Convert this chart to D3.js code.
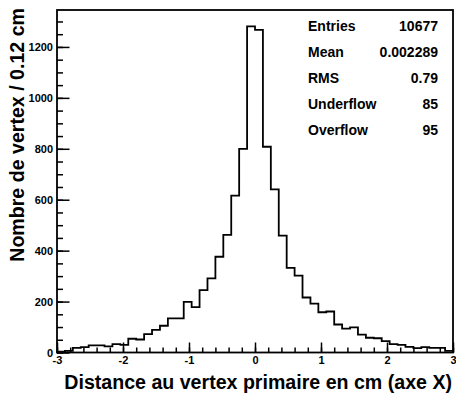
<!DOCTYPE html>
<html>
<head>
<meta charset="utf-8">
<script src="https://cdn.jsdelivr.net/npm/d3@7"></script>
<style>
  html, body { margin: 0; padding: 0; background: #fff; }
  svg { display: block; font-family: "Liberation Sans", Arial, Helvetica, sans-serif; font-weight: bold; }
</style>
</head>
<body>
<svg id="chart" width="456" height="397"></svg>
<script>
// ---- data ----
const binLow = -3;
const binHigh = 3;
const binCounts = [
  3, 6, 18, 21, 28, 28, 24, 33, 30, 54,
  51, 72, 89, 105, 134, 134, 199, 178, 245, 291,
  376, 462, 616, 800, 1281, 1267, 808, 641, 459, 332,
  302, 216, 192, 158, 161, 110, 94, 99, 70, 58,
  56, 45, 33, 30, 22, 17, 21, 18, 18, 6
];
const xTickValues = [-3, -2, -1, 0, 1, 2, 3];
const yTickValues = [0, 200, 400, 600, 800, 1000, 1200];
const statLabels = ["Entries", "Mean", "RMS", "Underflow", "Overflow"];
const statValues = ["10677", "0.002289", "0.79", "85", "95"];
const xTitle = "Distance au vertex primaire en cm (axe X)";
const yTitle = "Nombre de vertex / 0.12 cm";

// ---- layout ----
const frame = { left: 57, right: 453, top: 10, bottom: 352.5 };
const svg = d3.select("#chart");

const nBins = binCounts.length;
const binWidth = (binHigh - binLow) / nBins;
const yMax = d3.max(binCounts) * 1.05;

const x = d3.scaleLinear().domain([binLow, binHigh]).range([frame.left, frame.right]);
const y = d3.scaleLinear().domain([0, yMax]).range([frame.bottom, frame.top]);

// minor ticks
const xMinor = d3.range(binLow, binHigh + 1e-9, 0.2).map(v => +v.toFixed(2));
const yMinor = d3.range(0, yMax, 50);

const fmt = d => String(d);

// y minor ticks
svg.append("g")
  .attr("transform", `translate(${frame.left},0)`)
  .call(d3.axisLeft(y).tickValues(yMinor).tickSize(-6).tickFormat(""))
  .call(g => g.select(".domain").remove())
  .call(g => g.selectAll("line").attr("stroke", "#000").attr("stroke-width", 1.5));

// y major
svg.append("g")
  .attr("transform", `translate(${frame.left},0)`)
  .call(d3.axisLeft(y).tickValues(yTickValues).tickSize(-12.5).tickPadding(4).tickFormat(fmt))
  .call(g => g.select(".domain").remove())
  .call(g => g.selectAll("line").attr("stroke", "#000").attr("stroke-width", 1.5))
  .call(g => g.selectAll("text").attr("fill", "#000").attr("font-size", 11)
      .attr("font-family", "Liberation Sans, Arial, sans-serif").attr("font-weight", "bold"));

// x minor
svg.append("g")
  .attr("transform", `translate(0,${frame.bottom})`)
  .call(d3.axisBottom(x).tickValues(xMinor).tickSize(-5).tickFormat(""))
  .call(g => g.select(".domain").remove())
  .call(g => g.selectAll("line").attr("stroke", "#000").attr("stroke-width", 1.5));

// x major
svg.append("g")
  .attr("transform", `translate(0,${frame.bottom})`)
  .call(d3.axisBottom(x).tickValues(xTickValues).tickSize(-10).tickPadding(4).tickFormat(fmt))
  .call(g => g.select(".domain").remove())
  .call(g => g.selectAll("line").attr("stroke", "#000").attr("stroke-width", 1.5))
  .call(g => g.selectAll("text").attr("fill", "#000").attr("font-size", 11)
      .attr("font-family", "Liberation Sans, Arial, sans-serif").attr("font-weight", "bold"));

// histogram outline
const pts = [];
binCounts.forEach((c, i) => {
  const lo = binLow + i * binWidth;
  const hi = lo + binWidth;
  pts.push([lo, c]);
  pts.push([hi, c]);
});
pts.unshift([binLow, 0]);
pts.push([binHigh, 0]);
const line = d3.line().x(d => x(d[0])).y(d => y(d[1]));
svg.append("path")
  .attr("d", line(pts))
  .attr("fill", "none")
  .attr("stroke", "#000")
  .attr("stroke-width", 1.8)
  .attr("stroke-linejoin", "miter");

// frame
svg.append("rect")
  .attr("x", frame.left).attr("y", frame.top)
  .attr("width", frame.right - frame.left).attr("height", frame.bottom - frame.top)
  .attr("fill", "none").attr("stroke", "#000").attr("stroke-width", 1.8);

// stats
const statG = svg.append("g").attr("font-size", 14).attr("fill", "#000");
statLabels.forEach((lab, i) => {
  const yy = 30.7 + i * 26.1;
  statG.append("text").attr("x", 308).attr("y", yy).attr("text-anchor", "start").text(lab);
  statG.append("text").attr("x", 438).attr("y", yy).attr("text-anchor", "end").text(statValues[i]);
});

// axis titles
svg.append("text")
  .attr("x", 452).attr("y", 389)
  .attr("text-anchor", "end")
  .attr("font-size", 19.6)
  .text(xTitle);

svg.append("text")
  .attr("transform", "translate(24,8) rotate(-90)")
  .attr("text-anchor", "end")
  .attr("font-size", 19.6)
  .text(yTitle);
</script>
</body>
</html>
